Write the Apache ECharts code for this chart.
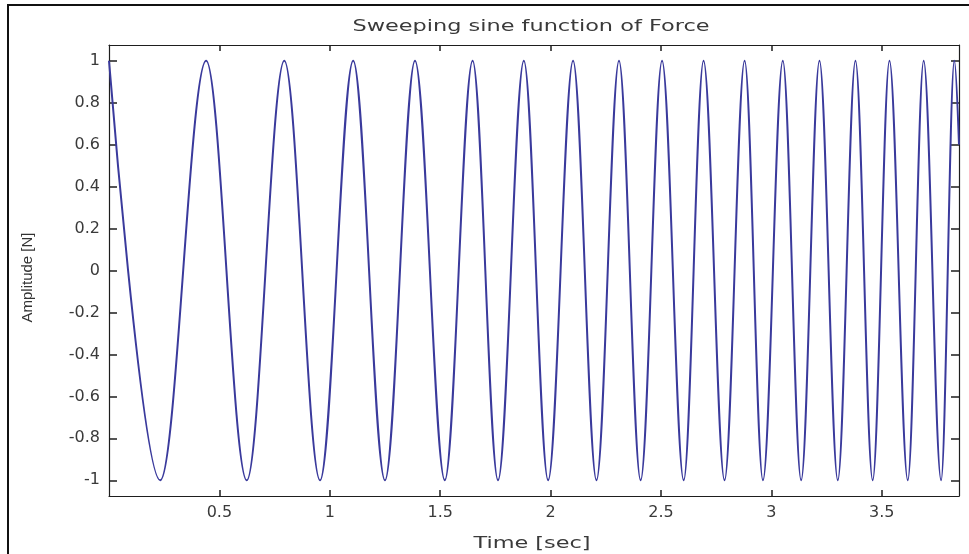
<!DOCTYPE html>
<html>
<head>
<meta charset="utf-8">
<script src="https://cdn.jsdelivr.net/npm/echarts@6/dist/echarts.min.js"></script>
<style>
  html, body { margin: 0; padding: 0; background: #fff; }
  #chart { width: 969px; height: 554px; }
</style>
</head>
<body>
<div id="chart"></div>
<script>
// times of the peaks / troughs (sec), then the end of the trace
const times = [
  0, 0.232, 0.440, 0.624, 0.794, 0.956, 1.106, 1.250, 1.386, 1.521,
  1.647, 1.762, 1.879, 1.989, 2.102, 2.208, 2.310, 2.408, 2.505, 2.603,
  2.693, 2.788, 2.879, 2.962, 3.052, 3.135, 3.218, 3.301, 3.381, 3.459,
  3.535, 3.618, 3.690, 3.769, 3.829, 3.85
]
const amplitude = [
  1, -1, 1, -1, 1, -1, 1, -1, 1, -1,
  1, -1, 1, -1, 1, -1, 1, -1, 1, -1,
  1, -1, 1, -1, 1, -1, 1, -1, 1, -1,
  1, -1, 1, -1, 1, 0.6
]
const xTicks = [0.5, 1, 1.5, 2, 2.5, 3, 3.5]
const yTicks = [-1, -0.8, -0.6, -0.4, -0.2, 0, 0.2, 0.4, 0.6, 0.8, 1]

const chart = echarts.init(document.getElementById('chart'))

const axisColor = '#1e1e1e'
const labelStyle = { fontFamily: 'DejaVu Sans', fontSize: 16, color: '#3a3a3a' }

// MATLAB-style box: ticks inside on all four sides
const boxX = (pos, withLabels) => ({
  type: 'value',
  position: pos,
  min: 0,
  max: 3.85,
  axisLine: { show: true, onZero: false, lineStyle: { color: axisColor, width: 1.2 } },
  axisTick: { show: true, inside: true, length: 6, customValues: xTicks, lineStyle: { color: axisColor, width: 1.5 } },
  axisLabel: Object.assign({ show: withLabels, customValues: xTicks, margin: 9 }, labelStyle),
  splitLine: { show: false }
})
const boxY = (pos, withLabels) => ({
  type: 'value',
  position: pos,
  min: -1.075,
  max: 1.075,
  axisLine: { show: true, onZero: false, lineStyle: { color: axisColor, width: 1.2 } },
  axisTick: { show: true, inside: true, length: 8, customValues: yTicks, lineStyle: { color: axisColor, width: 1.5 } },
  axisLabel: Object.assign({ show: withLabels, customValues: yTicks, margin: 9 }, labelStyle),
  splitLine: { show: false }
})

const yLeft = boxY('left', true)
yLeft.name = 'Amplitude [N]'
yLeft.nameLocation = 'middle'
yLeft.nameRotate = 90
yLeft.nameGap = 74
yLeft.nameTextStyle = { fontFamily: 'Liberation Sans', fontSize: 15, color: '#333', padding: [0, 14, 0, 0] }

chart.setOption({
  animation: false,
  backgroundColor: '#fff',
  grid: { left: 109, right: 10, top: 45, bottom: 58, containLabel: false },
  xAxis: [boxX('bottom', true), boxX('top', false)],
  yAxis: [yLeft, boxY('right', false)],
  graphic: [
    {
      type: 'rect',
      shape: { x: 8, y: 5, width: 1000, height: 600 },
      style: { fill: 'none', stroke: '#111', lineWidth: 2 },
      silent: true,
      z: -1
    },
    {
      type: 'text',
      x: 531,
      y: 27,
      scaleX: 1.4,
      style: {
        text: 'Sweeping sine function of Force',
        font: '16px "DejaVu Sans"',
        fill: '#3a3a3a',
        textAlign: 'center',
        textVerticalAlign: 'middle',
        align: 'center',
        verticalAlign: 'middle'
      }
    },
    {
      type: 'text',
      x: 532,
      y: 544,
      scaleX: 1.4,
      style: {
        text: 'Time [sec]',
        font: '16px "DejaVu Sans"',
        fill: '#3a3a3a',
        textAlign: 'center',
        textVerticalAlign: 'middle',
        align: 'center',
        verticalAlign: 'middle'
      }
    }
  ],
  series: [
    {
      name: 'Force',
      type: 'line',
      xAxisIndex: 0,
      yAxisIndex: 0,
      data: times.map((t, i) => [t, amplitude[i]]),
      showSymbol: false,
      symbol: 'none',
      smooth: 0.34,
      smoothMonotone: 'x',
      clip: true,
      lineStyle: { color: '#3a3a9c', width: 2 }
    }
  ]
})
</script>
</body>
</html>
